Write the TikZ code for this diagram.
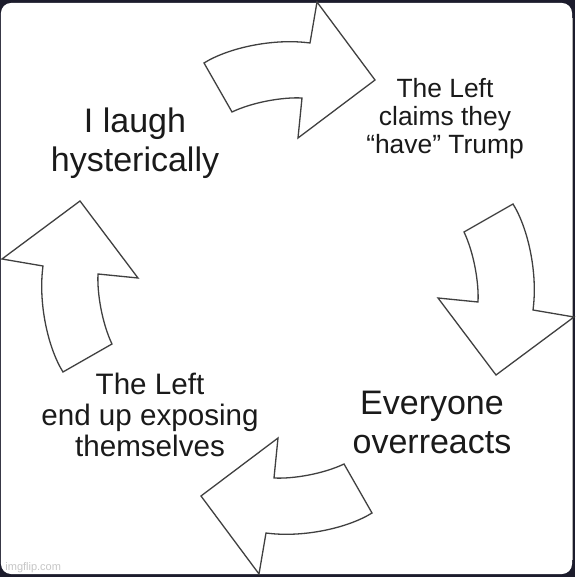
\documentclass[tikz,border=0pt]{standalone}
\usepackage{fontspec}
\setmainfont{Liberation Sans}
\definecolor{frameblue}{RGB}{28,28,44}
\definecolor{inkgray}{RGB}{64,64,64}
\definecolor{textblack}{RGB}{26,26,26}
\begin{document}
\begin{tikzpicture}[
  x=0.5pt, y=0.5pt,
  cyclearrow/.style={draw=inkgray, line width=0.65pt, line join=miter, fill=white},
  caption/.style={align=center, inner sep=0pt, anchor=north, text=textblack},
  bigtext/.style={caption, font=\fontsize{17}{19.5}\selectfont},
  midtext/.style={caption, font=\fontsize{14.8}{15.3}\selectfont},
  smalltext/.style={caption, font=\fontsize{13.2}{14}\selectfont},
  watermark/.style={anchor=base west, inner sep=0pt, text=gray!45, font=\fontsize{5.5}{6}\selectfont}
]
% frame
\useasboundingbox (-288,-289) rectangle (287,288);
\fill[frameblue] (-288,-289) rectangle (287,288);
\fill[white, rounded corners=5pt] (-287,-286) rectangle (284,285);
\draw[gray!60, line width=0.4pt] (284,270) -- (284,-272);

% the four arrows of the cycle
\foreach \ang in {0,-90,-180,-270}
  \draw[cyclearrow, rotate=\ang]
    (-84,225) .. controls (-60,240) and (-15,250) .. (22,245)
    -- (29,286) -- (87,208) -- (10,150) -- (14,190)
    .. controls (-5,191) and (-35,186) .. (-56,176) -- cycle;

% captions
\node[bigtext] (laugh) at (-153,181) {I laugh\\hysterically};
\node[smalltext] (claims) at (157,210) {The Left\\claims they\\“have” Trump};
\node[bigtext] (overreact) at (144,-103) {Everyone\\overreacts};
\node[midtext] (exposing) at (-138,-85) {The Left\\end up exposing\\themselves};

\node[watermark] (imgflip) at (-283,-282) {imgflip.com};
\end{tikzpicture}
\end{document}
